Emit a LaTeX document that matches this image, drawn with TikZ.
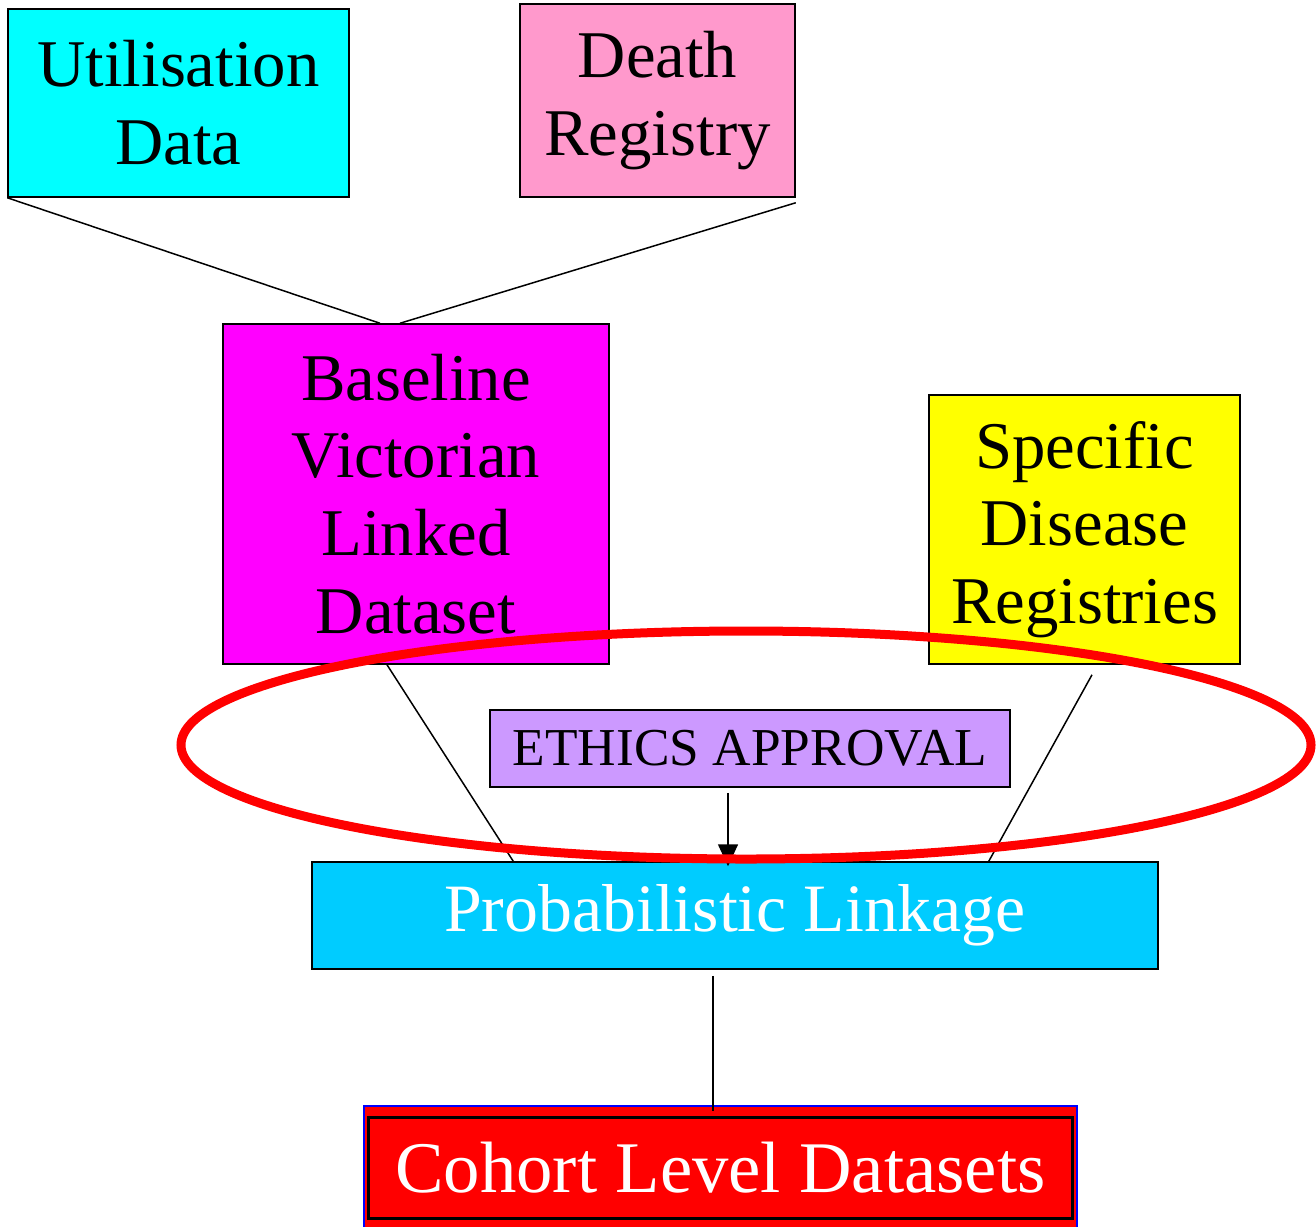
\documentclass[tikz,border=0pt]{standalone}
\usepackage{fontspec}
\setmainfont{Liberation Serif}
\usetikzlibrary{arrows.meta}
\definecolor{utilcyan}{HTML}{00FFFF}
\definecolor{deathpink}{HTML}{FF99CC}
\definecolor{basemagenta}{HTML}{FF00FF}
\definecolor{specyellow}{HTML}{FFFF00}
\definecolor{ethicslilac}{HTML}{CC99FF}
\definecolor{probblue}{HTML}{00CCFF}

\begin{document}
\begin{tikzpicture}[x=1bp,y=-1bp,
    box/.style={draw,line width=1.5bp,align=center,inner sep=0pt,
      font=\fontsize{67}{78}\selectfont},
    link/.style={line width=1.5bp}]
  \useasboundingbox (0,0) rectangle (1316,1226);
  \node[box,fill=utilcyan,minimum width=341bp,minimum height=188bp] (util) at (178.5,103) {Utilisation\\Data};
  \node[box,fill=deathpink,minimum width=275bp,minimum height=193bp] (death) at (657.5,100.5) {Death\\Registry};
  \node[box,fill=basemagenta,minimum width=386bp,minimum height=340bp] (base) at (416,494) {Baseline\\Victorian\\Linked\\Dataset};
  \node[box,fill=specyellow,minimum width=311bp,minimum height=269bp] (spec) at (1084.5,529.5) {Specific\\Disease\\Registries};
  \node[box,fill=ethicslilac,minimum width=520bp,minimum height=77bp,font=\fontsize{53.5}{60}\selectfont] (ethics) at (750,748.5) {ETHICS APPROVAL};
  \node[box,fill=probblue,text=white,minimum width=846bp,minimum height=107bp,font=\fontsize{68}{80}\selectfont] (prob) at (735,915.5) {Probabilistic Linkage};
  \node[draw=blue,fill=red,line width=2bp,minimum width=713bp,minimum height=130bp] (cohortframe) at (720.5,1171) {};
  \node[box,fill=red,text=white,line width=3bp,minimum width=704bp,minimum height=101bp,font=\fontsize{73}{84}\selectfont] (cohort) at (720.5,1167.5) {Cohort Level Datasets};

  \draw[link] (util.south west) -- ([xshift=-36bp]base.north);
  \draw[link] ([yshift=-5bp]death.south east) -- ([xshift=-16bp]base.north);
  \draw[link] ([xshift=-29bp]base.south) -- ([xshift=202bp]prob.north west);
  \draw[link] ([xshift=7.5bp,yshift=-10bp]spec.south) -- ([xshift=-170bp]prob.north east);
  \draw[link,-{Triangle[length=22bp,width=20bp]}] ([xshift=-22bp,yshift=-5bp]ethics.south) -- ([xshift=-22bp,yshift=-5bp]ethics.south |- prob.north);
  \draw[link] ([xshift=-22bp,yshift=-6bp]prob.south) -- ([xshift=-22bp,yshift=-6bp]prob.south |- cohortframe.north);

  \draw[red,line width=9bp] (746,745) ellipse [x radius=565bp,y radius=114bp];
\end{tikzpicture}
\end{document}
